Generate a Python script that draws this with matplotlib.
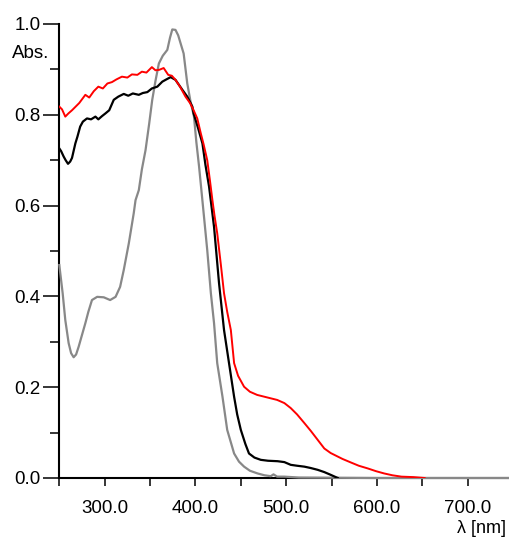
import matplotlib.pyplot as plt
from matplotlib.ticker import MultipleLocator

# absorption spectra
wl_red = [250, 253, 256.6, 260, 264, 268, 272, 278.7, 283, 288, 293, 298, 303, 308, 313, 319, 325,
          330, 336, 341, 346, 352, 356, 360, 365, 370, 374, 378, 383, 389, 394, 398, 402, 405.8,
          409, 413, 416, 418.7, 421, 424, 428, 431.5, 435, 439, 442.6, 447, 453.6, 460, 468, 478,
          490, 498, 505, 512, 520, 527, 534.7, 542, 549, 553, 562, 571.5, 580, 590, 599, 608, 617,
          627, 640, 652.5]
abs_red = [0.818, 0.812, 0.796, 0.803, 0.81, 0.818, 0.826, 0.844, 0.838, 0.852, 0.862, 0.858, 0.869,
           0.872, 0.878, 0.884, 0.882, 0.889, 0.888, 0.895, 0.893, 0.905, 0.898, 0.899, 0.903, 0.888,
           0.886, 0.877, 0.862, 0.84, 0.826, 0.81, 0.792, 0.76, 0.735, 0.70, 0.655, 0.612, 0.578,
           0.539, 0.47, 0.407, 0.366, 0.326, 0.253, 0.225, 0.201, 0.19, 0.183, 0.178, 0.172, 0.165,
           0.154, 0.14, 0.121, 0.104, 0.084, 0.065, 0.055, 0.051, 0.042, 0.034, 0.027, 0.021, 0.015,
           0.010, 0.006, 0.003, 0.002, 0.0]

wl_black = [250, 252, 254.8, 257, 259.6, 262, 264, 267.7, 270, 273, 276, 280.5, 285, 289.8, 293, 297,
            300.8, 305, 310, 315, 321, 326, 331, 337.6, 342, 347, 352, 358, 363.5, 368, 372.7, 378,
            385.6, 391, 396.6, 398, 403, 407.7, 411, 415, 420.5, 426, 431.5, 437, 442.6, 446, 450,
            455, 459, 465, 472, 480, 490.5, 498, 505, 512, 520, 527, 534.7, 542, 549, 556.8]
abs_black = [0.726, 0.72, 0.708, 0.70, 0.692, 0.697, 0.705, 0.737, 0.752, 0.774, 0.785, 0.792, 0.79,
             0.796, 0.79, 0.797, 0.803, 0.81, 0.833, 0.84, 0.846, 0.842, 0.847, 0.844, 0.848, 0.85,
             0.858, 0.862, 0.873, 0.878, 0.883, 0.877, 0.855, 0.84, 0.818, 0.803, 0.77, 0.737, 0.69,
             0.642, 0.553, 0.429, 0.326, 0.253, 0.179, 0.14, 0.106, 0.075, 0.054, 0.045, 0.040,
             0.038, 0.037, 0.035, 0.029, 0.027, 0.025, 0.022, 0.018, 0.013, 0.007, 0.0]

wl_gray = [250, 253.7, 256.6, 260.3, 263, 265.8, 268.5, 271.3, 275, 278.7, 282, 286, 291.7, 299, 306,
           312, 317, 321, 326.6, 332, 334, 337.6, 341, 345, 349, 352.4, 356, 359.7, 364, 369, 372,
           374.5, 378, 381, 383.7, 387, 391, 394.5, 398.4, 401, 404, 407, 409.4, 413, 417, 420.5,
           424, 429.8, 435, 442.6, 448, 453.6, 460, 468.5, 476, 483, 486, 490, 497.8, 514, 600,
           700, 750]
abs_gray = [0.469, 0.407, 0.348, 0.297, 0.275, 0.266, 0.272, 0.289, 0.315, 0.341, 0.366, 0.392,
            0.399, 0.398, 0.392, 0.399, 0.421, 0.458, 0.517, 0.583, 0.612, 0.634, 0.68, 0.722, 0.78,
            0.833, 0.875, 0.913, 0.93, 0.943, 0.97, 0.988, 0.987, 0.975, 0.957, 0.935, 0.869, 0.83,
            0.796, 0.74, 0.686, 0.625, 0.576, 0.502, 0.407, 0.341, 0.253, 0.179, 0.106, 0.054, 0.036,
            0.025, 0.016, 0.010, 0.006, 0.004, 0.008, 0.003, 0.003, 0.001, 0.0, 0.0, 0.0]

x_labels = [300, 400, 500, 600, 700]

plt.rcParams['font.family'] = ['Liberation Sans', 'DejaVu Sans']

fig = plt.figure(figsize=(5.1, 5.4), dpi=100)
ax = fig.add_axes([59.3 / 510, 62 / 540, 453.8 / 510, 454 / 540])

ax.plot(wl_gray, abs_gray, color='#888888', lw=1.6, zorder=3, clip_on=False)
ax.plot(wl_black, abs_black, color='black', lw=1.6, zorder=4)
ax.plot(wl_red, abs_red, color='red', lw=1.4, zorder=5)

ax.set_xlim(250, 750)
ax.set_ylim(0, 1.0)

for side in ['top', 'right']:
    ax.spines[side].set_visible(False)
for side in ['left', 'bottom']:
    ax.spines[side].set_linewidth(1.5)

ax.set_xticks(x_labels)
ax.set_xticklabels([f'{v:.1f}' for v in x_labels])
ax.xaxis.set_minor_locator(MultipleLocator(50))
ax.set_yticks([0.0, 0.2, 0.4, 0.6, 0.8, 1.0])
ax.set_yticklabels(['0.0', '0.2', '0.4', '0.6', '0.8', '1.0'])
ax.yaxis.set_minor_locator(MultipleLocator(0.1))

ax.tick_params(axis='x', which='both', direction='out', length=6, width=1.1, pad=10, labelsize=13.5)
ax.tick_params(axis='y', which='major', direction='out', length=11.5, width=1.1, pad=2, labelsize=13.5)
ax.tick_params(axis='y', which='minor', direction='out', length=6.5, width=1.1)

fig.text(12 / 510, 1 - 53 / 540, 'Abs.', fontsize=13.5, ha='left', va='center')
fig.text(506 / 510, 1 - 537 / 540, 'λ [nm]', fontsize=13, ha='right', va='bottom')

plt.savefig('out.png', dpi=100)
